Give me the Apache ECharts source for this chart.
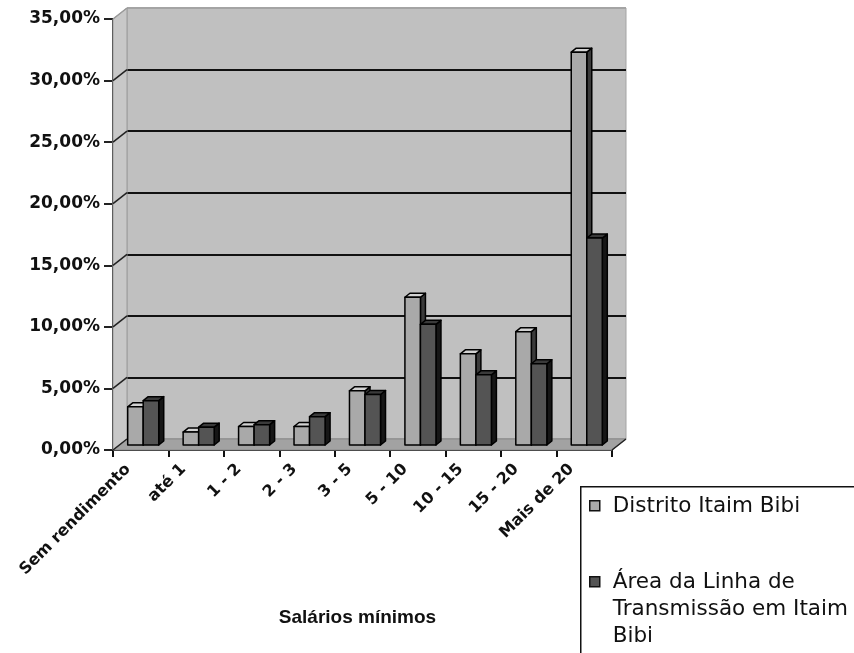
<!DOCTYPE html>
<html>
<head>
<meta charset="utf-8">
<script src="https://cdn.jsdelivr.net/npm/echarts@6/dist/echarts.min.js"></script>
<style>
  html, body { margin: 0; padding: 0; background: #fff; }
  #chart { width: 854px; height: 653px; }
</style>
</head>
<body>
<div id="chart"></div>
<script>
// Faixas de renda (salários mínimos)
const categories = ['Sem rendimento', 'até 1', '1 - 2', '2 - 3', '3 - 5', '5 - 10', '10 - 15', '15 - 20', 'Mais de 20'];
// percentuais por faixa
const distritoItaimBibi = [3.1, 1.05, 1.5, 1.5, 4.4, 12.0, 7.4, 9.2, 31.9];
const linhaTransmissao = [3.6, 1.45, 1.65, 2.3, 4.1, 9.8, 5.7, 6.6, 16.8];
const yTicks = [0, 5, 10, 15, 20, 25, 30, 35];

const serieNames = ['Distrito Itaim Bibi', 'Área da Linha de\nTransmissão em Itaim\nBibi'];

// 3D look: back wall offset and bar depth
const DX = 14, DY = -11;
const BAR_DY = 5, SIDE = 5, TOPD = 4;

const chart = echarts.init(document.getElementById('chart'));

function frameItem(params, api) {
    const c0 = api.coord([0, 0]);
    const bw = api.size([1, 0])[0];
    const xL = c0[0] - bw / 2;
    const xR = xL + categories.length * bw;
    const y0 = c0[1];
    const yTop = api.coord([0, yTicks[yTicks.length - 1]])[1];
    const children = [];
    children.push({
        type: 'polygon',
        shape: { points: [[xL, yTop], [xL + DX, yTop + DY], [xL + DX, y0 + DY], [xL, y0]] },
        style: { fill: '#c8c8c8', stroke: '#9a9a9a', lineWidth: 1 }
    });
    children.push({
        type: 'polygon',
        shape: { points: [[xL, y0], [xL + DX, y0 + DY], [xR + DX, y0 + DY], [xR, y0]] },
        style: { fill: '#a2a2a2', stroke: '#8a8a8a', lineWidth: 1 }
    });
    yTicks.forEach(function (v, i) {
        const y = api.coord([0, v])[1];
        children.push({
            type: 'line',
            shape: { x1: xL, y1: y, x2: xL + DX, y2: y + DY },
            style: { stroke: i === yTicks.length - 1 ? '#9a9a9a' : '#222', lineWidth: 1.5 }
        });
    });
    children.push({
        type: 'line',
        shape: { x1: xR, y1: y0, x2: xR + DX, y2: y0 + DY },
        style: { stroke: '#222', lineWidth: 1.5 }
    });
    return { type: 'group', children: children };
}

function makeBar(slot, colors) {
    return function (params, api) {
        const idx = api.value(0);
        const top = api.coord([idx, api.value(1)]);
        const base = api.coord([idx, 0]);
        const bw = api.size([1, 0])[0];
        const w = bw * 0.28;
        const x = top[0] - bw * 0.235 + slot * w;
        const yT = top[1] - BAR_DY;
        const yB = base[1] - BAR_DY;
        const st = { stroke: '#000', lineWidth: 1.5, lineJoin: 'round' };
        return {
            type: 'group',
            children: [
                { type: 'polygon', shape: { points: [[x + w, yT], [x + w + SIDE, yT - TOPD], [x + w + SIDE, yB - TOPD], [x + w, yB]] },
                  style: Object.assign({ fill: colors.side }, st) },
                { type: 'polygon', shape: { points: [[x, yT], [x + SIDE, yT - TOPD], [x + w + SIDE, yT - TOPD], [x + w, yT]] },
                  style: Object.assign({ fill: colors.top }, st) },
                { type: 'rect', shape: { x: x, y: yT, width: w, height: yB - yT },
                  style: Object.assign({ fill: colors.front }, st) }
            ]
        };
    };
}

const labelFont = 'DejaVu Sans';

chart.setOption({
    animation: false,
    backgroundColor: '#fff',
    grid: [
        { left: 113, right: 242, top: 19, bottom: 203 },
        { left: 113 + DX, right: 242 - DX, top: 19 + DY, bottom: 203 - DY,
          show: true, backgroundColor: '#c0c0c0', borderColor: '#a4a4a4', borderWidth: 1 }
    ],
    xAxis: [
        {
            type: 'category', gridIndex: 0, data: categories,
            axisLine: { lineStyle: { color: '#111', width: 2 } },
            axisTick: { show: true, length: 7, lineStyle: { color: '#111', width: 2 } },
            axisLabel: {
                interval: 0, rotate: 45, margin: 4, padding: [0, 18, 0, 0],
                fontFamily: labelFont, fontWeight: 'bold', fontSize: 16, color: '#111'
            },
            name: 'Salários mínimos', nameLocation: 'middle', nameGap: 158,
            nameTextStyle: { fontFamily: 'Liberation Sans', fontWeight: 'bold', fontSize: 19, color: '#111',
                             padding: [0, 10, 0, 0] }
        },
        { type: 'category', gridIndex: 1, data: categories, show: false }
    ],
    yAxis: [
        {
            type: 'value', gridIndex: 0, min: 0, max: 35, interval: 5,
            axisLine: { show: true, lineStyle: { color: '#222', width: 2 } },
            axisTick: { show: true, length: 9, lineStyle: { color: '#222', width: 2 } },
            splitLine: { show: false },
            axisLabel: {
                margin: 13, fontFamily: labelFont, fontWeight: 'bold', fontSize: 17, color: '#111',
                formatter: function (v) { return v.toFixed(2).replace('.', ',') + '%'; }
            }
        },
        {
            type: 'value', gridIndex: 1, min: 0, max: 35, interval: 5,
            axisLine: { show: false }, axisTick: { show: false }, axisLabel: { show: false },
            splitLine: { show: true, lineStyle: { width: 2, color: ['#a0a0a0', '#111', '#111', '#111', '#111', '#111', '#111', '#a4a4a4'] } }
        }
    ],
    series: [
        {
            type: 'custom', name: 'frame', xAxisIndex: 0, yAxisIndex: 0, clip: false, z: 1,
            data: [[0, 0]], renderItem: frameItem, silent: true
        },
        {
            type: 'custom', name: serieNames[0], xAxisIndex: 0, yAxisIndex: 0, clip: false, z: 3,
            data: distritoItaimBibi.map(function (v, i) { return [i, v]; }),
            renderItem: makeBar(0, { front: '#a9a9a9', top: '#d2d2d2', side: '#3a3a3a' })
        },
        {
            type: 'custom', name: serieNames[1], xAxisIndex: 0, yAxisIndex: 0, clip: false, z: 3,
            data: linhaTransmissao.map(function (v, i) { return [i, v]; }),
            renderItem: makeBar(1, { front: '#545454', top: '#3a3a3a', side: '#161616' })
        }
    ],
    graphic: [
        {
            type: 'group', left: 580, top: 486,
            children: [
                { type: 'rect', shape: { x: 0, y: 0, width: 300, height: 200 },
                  style: { fill: '#fff', stroke: '#111', lineWidth: 1.5 } },
                { type: 'rect', shape: { x: 9, y: 14, width: 10, height: 10 },
                  style: { fill: '#a9a9a9', stroke: '#111', lineWidth: 1.5 } },
                { type: 'text', x: 32, y: 20,
                  style: { text: serieNames[0], font: '21.5px "DejaVu Sans"', fill: '#111', verticalAlign: 'middle' } },
                { type: 'rect', shape: { x: 9, y: 90, width: 10, height: 10 },
                  style: { fill: '#545454', stroke: '#111', lineWidth: 1.5 } },
                { type: 'text', x: 32, y: 82,
                  style: { text: serieNames[1], font: '21.5px "DejaVu Sans"', fill: '#111', lineHeight: 27, verticalAlign: 'top' } }
            ]
        }
    ]
});
</script>
</body>
</html>
